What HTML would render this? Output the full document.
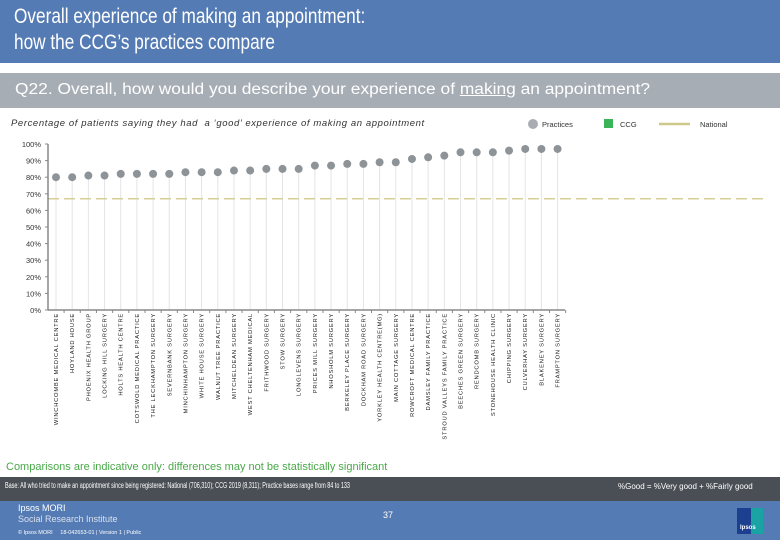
<!DOCTYPE html>
<html><head><meta charset="utf-8"><style>
body{margin:0;width:780px;height:540px;overflow:hidden;background:#fff;font-family:"Liberation Sans",Arial,sans-serif;position:relative}
.abs{position:absolute;white-space:nowrap}
</style></head><body>
<div class="abs" style="left:0;top:0;width:780px;height:63px;background:#557bb4"></div>
<div class="abs" style="left:14px;top:4px;color:#fff;font-size:21px;line-height:26px;transform:scaleX(0.82);transform-origin:left">Overall experience of making an appointment:<br>how the CCG’s practices compare</div>
<div class="abs" style="left:0;top:73px;width:780px;height:35px;background:#a7adb5"></div>
<div class="abs" style="left:15px;top:81px;color:#fff;font-size:15.5px;transform:scaleX(1.12);transform-origin:left">Q22. Overall, how would you describe your experience of <u>making</u> an appointment?</div>
<div class="abs" style="left:11px;top:118px;color:#333;font-size:9.5px;font-style:italic;letter-spacing:0.6px">Percentage of patients saying they had &nbsp;a ‘good’ experience of making an appointment</div>
<svg class="abs" style="left:0;top:0" width="780" height="540" id="chart">
<g>
<circle cx="533" cy="124" r="5" fill="#a9adb3"/>
<text x="542" y="127" font-size="7.5" fill="#333">Practices</text>
<rect x="604" y="119" width="9" height="9" fill="#3cb55a"/>
<text x="620" y="127" font-size="7.5" fill="#333">CCG</text>
<line x1="659" y1="124" x2="690" y2="124" stroke="#cfc88a" stroke-width="2.5"/>
<text x="700" y="127" font-size="7.5" fill="#333">National</text>
</g>
</svg>
<div class="abs" style="left:6px;top:461px;color:#4aa84a;font-size:11px">Comparisons are indicative only: differences may not be statistically significant</div>
<div class="abs" style="left:0;top:477px;width:780px;height:24px;background:#4a4f55"></div>
<div class="abs" style="left:5px;top:481px;color:#fff;font-size:8px;transform:scaleX(0.68);transform-origin:left">Base: All who tried to make an appointment since being registered: National (706,310); CCG 2019 (8,311); Practice bases range from 84 to 133</div>
<div class="abs" style="left:618px;top:482px;color:#fff;font-size:8px">%Good = %Very good + %Fairly good</div>
<div class="abs" style="left:0;top:501px;width:780px;height:39px;background:#557bb4"></div>
<div class="abs" style="left:18px;top:503px;color:#fff;font-size:9px;line-height:11px">Ipsos MORI<br><span style="color:#d8e0ee">Social Research Institute</span></div>
<div class="abs" style="left:18px;top:530px;color:#fff;font-size:5.5px">© Ipsos MORI &nbsp;&nbsp;&nbsp;&nbsp;18-042653-01 | Version 1 | Public</div>
<div class="abs" style="left:383px;top:510px;color:#fff;font-size:9px">37</div>
<div class="abs" style="left:737px;top:508px;width:26px;height:26px;background:#1aa3a3"><div style="position:absolute;left:0;top:0;width:14px;height:26px;background:#1c3f8f"></div><div style="position:absolute;left:3px;top:17px;color:#fff;font-size:6px;font-weight:bold">Ipsos</div></div>
<script>
const practices=["WINCHCOMBE MEDICAL CENTRE","HOYLAND HOUSE","PHOENIX HEALTH GROUP","LOCKING HILL SURGERY","HOLTS HEALTH CENTRE","COTSWOLD MEDICAL PRACTICE","THE LECKHAMPTON SURGERY","SEVERNBANK SURGERY","MINCHINHAMPTON SURGERY","WHITE HOUSE SURGERY","WALNUT TREE PRACTICE","MITCHELDEAN SURGERY","WEST CHELTENHAM MEDICAL","FRITHWOOD SURGERY","STOW SURGERY","LONGLEVENS SURGERY","PRICES MILL SURGERY","NHOSHOLM SURGERY","BERKELEY PLACE SURGERY","DOCKHAM ROAD SURGERY","YORKLEY HEALTH CENTRE(MG)","MAIN COTTAGE SURGERY","ROWCROFT MEDICAL CENTRE","DAMSLEY FAMILY PRACTICE","STROUD VALLEYS FAMILY PRACTICE","BEECHES GREEN SURGERY","RENDCOMB SURGERY","STONEHOUSE HEALTH CLINIC","CHIPPING SURGERY","CULVERHAY SURGERY","BLAKENEY SURGERY","FRAMPTON SURGERY"];
const values=[80,80,81,81,82,82,82,82,83,83,83,84,84,85,85,85,87,87,88,88,89,89,91,92,93,95,95,95,96,97,97,97];
const nationalValue=67;
const yTicks=[0,10,20,30,40,50,60,70,80,90,100];
const svg=document.getElementById('chart');
const NS='http://www.w3.org/2000/svg';
const x0=56,step=16.18,yBase=310,yTop=144,axisX=48;
function xs(i){return x0+i*step;}
function ys(v){return yBase-(v/100)*(yBase-yTop);}
function mk(t,a){const e=document.createElementNS(NS,t);for(const k in a)e.setAttribute(k,a[k]);svg.appendChild(e);return e;}
yTicks.forEach(v=>{
 const t=mk('text',{x:41,y:ys(v)+3,'font-size':7.5,'text-anchor':'end',fill:'#333'});
 t.textContent=v+'%';
 
 
 const l=mk('line',{x1:axisX-3,x2:axisX,y1:ys(v),y2:ys(v),stroke:'#888'});
 
 
});
values.forEach((v,i)=>{
 const s=mk('line',{x1:xs(i),x2:xs(i),y1:ys(v),y2:yBase,stroke:'#e4e4e6','stroke-width':1});
 
 
});
const nl=mk('line',{x1:axisX,x2:765,y1:ys(nationalValue),y2:ys(nationalValue),stroke:'#d6cf95','stroke-width':1.5,'stroke-dasharray':'11 5'});


const ya=mk('line',{x1:axisX,x2:axisX,y1:yTop,y2:yBase,stroke:'#888','stroke-width':1.5});


const xa=mk('line',{x1:axisX,x2:565,y1:yBase,y2:yBase,stroke:'#888','stroke-width':1.5});


values.forEach((v,i)=>{
 const tk=mk('line',{x1:xs(i)+step/2,x2:xs(i)+step/2,y1:yBase,y2:yBase+3,stroke:'#888'});
 
 
 const c=mk('circle',{cx:xs(i),cy:ys(v),r:4,fill:'#8e9398'});
 
 
 const t=mk('text',{x:0,y:0,'font-size':5.8,'text-anchor':'end',fill:'#222','letter-spacing':'0.75',transform:`translate(${xs(i)+2},313) rotate(-90)`});
 t.textContent=practices[i];
 
 
});
</script>
</body></html>
